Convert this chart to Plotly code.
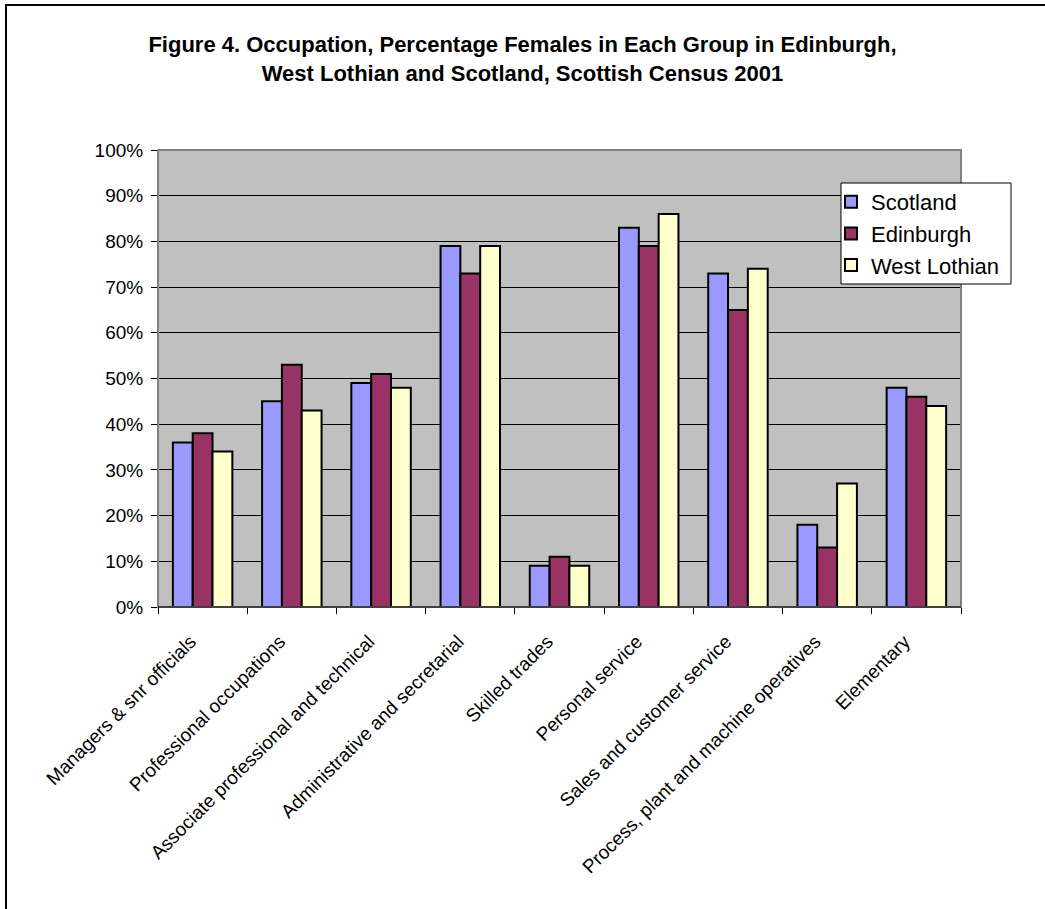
import plotly.graph_objects as go

categories = ["Managers & snr officials", "Professional occupations",
              "Associate professional and technical", "Administrative and secretarial",
              "Skilled trades", "Personal service", "Sales and customer service",
              "Process, plant and machine operatives", "Elementary"]
scotland = [36, 45, 49, 79, 9, 83, 73, 18, 48]
edinburgh = [38, 53, 51, 73, 11, 79, 65, 13, 46]
west_lothian = [34, 43, 48, 79, 9, 86, 74, 27, 44]
series_names = ["Scotland", "Edinburgh", "West Lothian"]
series_colors = ["#9999FF", "#993366", "#FFFFCC"]
y_ticks = [0, 10, 20, 30, 40, 50, 60, 70, 80, 90, 100]
y_labels = [f"{v}%" for v in y_ticks]

FONT = "Arial, Liberation Sans, sans-serif"
W, H = 1045, 909
L, R, T, B = 158, 1045 - 961, 150, 909 - 607

fig = go.Figure()
for name, vals, col in zip(series_names, [scotland, edinburgh, west_lothian], series_colors):
    fig.add_trace(go.Bar(x=categories, y=vals, name=name, legendgroup=name,
                         marker=dict(color=col, line=dict(color="black", width=2))))

pw = W - L - R
ph = H - T - B


def px_x(x):
    return (x - L) / pw


def px_y(y):
    return 1 - (y - T) / ph


fig.update_layout(
    width=W, height=H,
    margin=dict(l=L, r=R, t=T, b=B),
    paper_bgcolor="white", plot_bgcolor="#C0C0C0",
    barmode="group", bargap=1/3, bargroupgap=0,
    font=dict(family=FONT, size=19, color="black"),
    title=dict(text="<b>Figure 4. Occupation, Percentage Females in Each Group in Edinburgh,<br>West Lothian and Scotland, Scottish Census 2001</b>",
               x=0.5, xref="container", xanchor="center", y=1 - 52 / H, yref="container",
               yanchor="middle", font=dict(family=FONT, size=22)),
    legend=dict(x=px_x(831), y=px_y(181), xanchor="left", yanchor="top",
                bgcolor="rgba(0,0,0,0)", borderwidth=0,
                font=dict(family=FONT, size=22), tracegroupgap=6, traceorder="normal"),
    showlegend=True,
    xaxis=dict(type="category", tickson="boundaries", ticks="outside", ticklen=6,
               tickcolor="black", tickangle=-45, showgrid=False, showline=True,
               linecolor="black", linewidth=1, ticklabelstandoff=15, ticklabelshift=-12,
               tickfont=dict(family=FONT, size=19)),
    yaxis=dict(range=[0, 100], tickvals=y_ticks, ticktext=y_labels, ticks="outside",
               ticklen=6, tickcolor="black", showgrid=True, gridcolor="black", gridwidth=1,
               showline=True, linecolor="#808080", linewidth=1, zeroline=False,
               ticklabelstandoff=4, tickfont=dict(family=FONT, size=19)),
    shapes=[
        dict(type="rect", xref="paper", yref="paper", x0=0, x1=1, y0=0, y1=1,
             line=dict(color="#808080", width=2), layer="above"),
        dict(type="line", xref="paper", yref="paper", x0=0, x1=1, y0=0, y1=0,
             line=dict(color="black", width=1), layer="above"),
        dict(type="rect", xref="paper", yref="paper",
             x0=px_x(841), x1=px_x(1011), y0=px_y(284), y1=px_y(183),
             fillcolor="white", line=dict(color="black", width=1), layer="above"),
        dict(type="rect", xref="paper", yref="paper",
             x0=(6 - L) / pw, x1=(W + 20 - L) / pw,
             y0=-(H + 20 - T - ph) / ph, y1=1 + (T - 5) / ph,
             line=dict(color="black", width=2), layer="above"),
    ],
)

fig.write_html("out.html")
